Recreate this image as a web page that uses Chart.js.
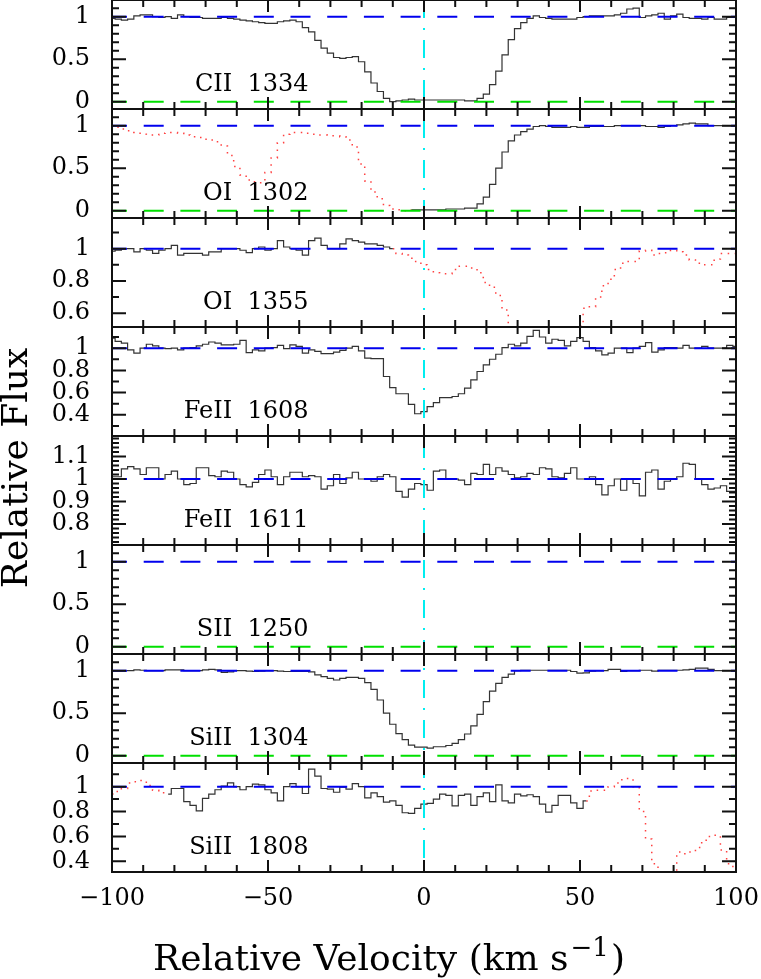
<!DOCTYPE html>
<html>
<head>
<meta charset="utf-8">
<script src="https://cdn.jsdelivr.net/npm/chart.js@4.4.1/dist/chart.umd.min.js"></script>
<style>
  html, body { margin: 0; padding: 0; background: #fff; }
  canvas { display: block; }
</style>
</head>
<body>
<canvas id="velocityPlot" width="761" height="979"></canvas>
<script>
// velocity grid (km/s), bin centres
const velocity = [
  -100, -98, -96, -94, -92, -90, -88, -86, -84, -82,
  -80, -78, -76, -74, -72, -70, -68, -66, -64, -62,
  -60, -58, -56, -54, -52, -50, -48, -46, -44, -42,
  -40, -38, -36, -34, -32, -30, -28, -26, -24, -22,
  -20, -18, -16, -14, -12, -10, -8, -6, -4, -2,
  0, 2, 4, 6, 8, 10, 12, 14, 16, 18,
  20, 22, 24, 26, 28, 30, 32, 34, 36, 38,
  40, 42, 44, 46, 48, 50, 52, 54, 56, 58,
  60, 62, 64, 66, 68, 70, 72, 74, 76, 78,
  80, 82, 84, 86, 88, 90, 92, 94, 96, 98,
  100
];

const panelNames = ["CII  1334", "OI  1302", "OI  1355", "FeII  1608", "FeII  1611", "SII  1250", "SiII  1304", "SiII  1808"];

const fluxCII1334 = [
  0.98, 0.97, 0.96, 0.97, 1.01, 1.02, 1.02, 1.00, 0.99, 1.00,
  0.98, 1.02, 1.00, 0.99, 0.99, 0.98, 0.98, 0.98, 0.99, 0.98,
  0.97, 0.96, 0.95, 0.94, 0.93, 0.92, 0.92, 0.94, 0.95, 0.96,
  0.94, 0.87, 0.82, 0.72, 0.63, 0.57, 0.52, 0.51, 0.52, 0.53,
  0.47, 0.35, 0.22, 0.12, 0.04, 0.00, 0.01, 0.02, 0.03, 0.02,
  0.02, 0.02, 0.02, 0.02, 0.02, 0.02, 0.02, 0.01, 0.01, 0.04,
  0.09, 0.20, 0.36, 0.55, 0.73, 0.86, 0.93, 0.98, 1.01, 0.99,
  0.98, 0.97, 0.97, 0.97, 0.97, 0.99, 1.00, 1.01, 1.01, 1.01,
  1.01, 1.02, 1.04, 1.09, 1.10, 0.99, 1.01, 1.02, 1.04, 0.97,
  1.01, 1.03, 0.99, 0.98, 0.98, 0.97, 0.99, 0.97, 0.97, 0.99,
  0.99
];
const fluxOI1302 = [
  1.00, 0.98, 0.96, 0.94, 0.92, 0.90, 0.89, 0.89, 0.91, 0.92,
  0.92, 0.91, 0.89, 0.87, 0.86, 0.84, 0.83, 0.81, 0.76, 0.65,
  0.52, 0.42, 0.36, 0.34, 0.33, 0.45, 0.62, 0.80, 0.90, 0.92,
  0.92, 0.91, 0.90, 0.89, 0.89, 0.88, 0.88, 0.87, 0.83, 0.75,
  0.55, 0.35, 0.22, 0.14, 0.06, 0.02, 0.01, 0.00, 0.01, 0.01,
  0.01, 0.01, 0.01, 0.01, 0.02, 0.02, 0.02, 0.03, 0.03, 0.08,
  0.16, 0.31, 0.50, 0.69, 0.82, 0.89, 0.93, 0.96, 0.99, 1.00,
  0.99, 0.98, 0.98, 0.98, 0.99, 0.98, 0.98, 0.99, 0.99, 0.99,
  0.99, 1.00, 1.00, 1.00, 1.00, 1.00, 0.99, 0.99, 0.98, 0.99,
  1.00, 1.01, 1.02, 1.03, 1.02, 1.02, 1.00, 1.00, 1.00, 1.00,
  1.00
];
const fluxOI1355 = [
  0.985, 0.99, 1.00, 1.00, 0.98, 1.00, 0.99, 0.97, 0.99, 1.00,
  1.02, 0.96, 0.97, 0.97, 0.97, 0.96, 0.98, 0.98, 1.00, 1.00,
  1.00, 0.99, 0.975, 1.00, 1.01, 0.99, 1.00, 1.05, 1.01, 1.00,
  0.99, 0.96, 1.05, 1.065, 1.02, 1.00, 1.00, 1.03, 1.06, 1.05,
  1.04, 1.03, 1.03, 1.02, 1.01, 1.00, 0.97, 0.96, 0.94, 0.92,
  0.90, 0.87, 0.85, 0.845, 0.845, 0.87, 0.89, 0.89, 0.88, 0.85,
  0.79, 0.76, 0.71, 0.62, 0.50, 0.45, 0.40, 0.35, 0.30, 0.30,
  0.30, 0.30, 0.35, 0.40, 0.45, 0.52, 0.63, 0.64, 0.70, 0.77,
  0.81, 0.87, 0.91, 0.92, 0.92, 0.985, 0.99, 0.96, 0.97, 0.975,
  0.99, 0.98, 0.96, 0.93, 0.91, 0.90, 0.90, 0.935, 0.97, 0.97,
  0.97
];
const fluxFeII1608 = [
  1.09, 1.06, 1.045, 0.985, 0.955, 1.00, 1.035, 1.02, 1.00, 0.995,
  1.00, 0.985, 1.00, 1.005, 1.02, 1.035, 1.055, 1.045, 1.03, 1.03,
  1.035, 1.07, 0.96, 0.985, 0.975, 1.00, 1.005, 1.025, 0.995, 1.03,
  1.015, 0.955, 0.985, 0.97, 0.95, 0.95, 0.965, 0.98, 1.00, 1.015,
  0.975, 0.91, 0.905, 0.905, 0.745, 0.645, 0.59, 0.59, 0.495, 0.41,
  0.43, 0.475, 0.51, 0.555, 0.555, 0.565, 0.59, 0.64, 0.715, 0.79,
  0.85, 0.90, 0.945, 1.005, 1.035, 1.02, 1.045, 1.105, 1.16, 1.10,
  1.045, 1.08, 1.07, 1.02, 1.06, 1.095, 1.06, 1.005, 0.975, 0.94,
  0.955, 1.00, 1.00, 0.96, 1.00, 1.015, 1.05, 0.965, 0.985, 1.005,
  1.005, 1.00, 1.025, 1.00, 1.00, 1.015, 1.00, 1.00, 1.00, 1.025,
  1.015
];
const fluxFeII1611 = [
  1.01, 1.01, 1.045, 1.055, 1.045, 1.02, 1.05, 1.05, 1.00, 1.02,
  1.035, 1.00, 0.975, 0.98, 1.05, 1.05, 1.015, 1.01, 1.035, 1.03,
  1.00, 0.975, 0.965, 0.985, 1.02, 1.04, 1.01, 0.975, 1.01, 1.03,
  1.03, 1.01, 1.015, 1.01, 0.955, 0.97, 1.02, 0.98, 1.005, 1.03,
  1.00, 1.00, 0.99, 1.01, 1.02, 1.01, 0.945, 0.92, 0.955, 0.98,
  0.975, 0.95, 1.035, 1.04, 1.00, 1.00, 0.995, 0.975, 1.025, 1.02,
  1.065, 1.02, 1.05, 1.035, 1.02, 1.005, 1.01, 1.025, 1.02, 1.05,
  1.045, 1.01, 1.005, 1.025, 1.05, 1.00, 1.00, 1.01, 0.975, 0.93,
  0.97, 1.00, 0.95, 1.00, 0.98, 0.925, 1.03, 1.04, 0.955, 0.99,
  1.00, 1.01, 1.07, 1.065, 1.00, 0.975, 0.955, 0.96, 0.97, 0.945,
  0.945
];
const fluxSII1250 = [];
const fluxSiII1304 = [
  1.00, 1.00, 1.00, 1.00, 1.01, 1.005, 1.00, 1.00, 1.00, 1.01,
  1.01, 1.01, 1.00, 1.00, 1.00, 1.01, 1.015, 1.01, 0.98, 0.985,
  1.00, 1.00, 0.995, 0.99, 0.995, 1.00, 1.00, 0.995, 0.99, 0.99,
  0.99, 0.99, 0.985, 0.95, 0.93, 0.91, 0.89, 0.91, 0.92, 0.92,
  0.91, 0.86, 0.78, 0.655, 0.50, 0.37, 0.26, 0.19, 0.125, 0.10,
  0.10, 0.09, 0.105, 0.105, 0.12, 0.145, 0.19, 0.255, 0.35, 0.485,
  0.635, 0.76, 0.85, 0.92, 0.96, 1.00, 1.005, 1.005, 1.005, 1.005,
  1.005, 1.005, 1.005, 1.005, 0.99, 0.97, 0.975, 0.995, 1.00, 1.00,
  1.015, 1.015, 0.99, 1.00, 1.00, 1.005, 1.005, 0.995, 1.005, 1.005,
  1.005, 1.005, 1.01, 1.015, 1.03, 1.03, 1.015, 1.00, 1.00, 1.00,
  1.00
];
const fluxSiII1808 = [
  0.94, 0.96, 0.985, 1.03, 1.04, 1.05, 1.01, 0.97, 0.95, 0.94,
  0.985, 0.985, 0.88, 0.85, 0.805, 0.905, 0.94, 0.975, 1.005, 1.03,
  1.00, 0.975, 1.00, 1.02, 1.015, 0.975, 0.95, 0.885, 1.00, 1.025,
  1.00, 0.945, 1.14, 1.085, 0.985, 0.98, 0.955, 0.995, 0.98, 1.025,
  1.00, 0.91, 0.95, 0.92, 0.875, 0.885, 0.85, 0.79, 0.785, 0.825,
  0.86, 0.865, 0.90, 0.94, 0.93, 0.845, 0.93, 0.94, 0.85, 0.92,
  0.95, 0.88, 1.015, 0.885, 0.87, 0.94, 0.925, 0.935, 0.92, 0.86,
  0.795, 0.85, 0.93, 0.93, 0.87, 0.825, 0.885, 0.965, 0.97, 0.97,
  1.00, 1.03, 1.055, 1.065, 1.00, 0.80, 0.58, 0.38, 0.28, 0.22,
  0.25, 0.475, 0.46, 0.475, 0.51, 0.57, 0.60, 0.61, 0.49, 0.38,
  0.33
];

const panelFlux = [fluxCII1334, fluxOI1302, fluxOI1355, fluxFeII1608, fluxFeII1611, fluxSII1250, fluxSiII1304, fluxSiII1808];
// velocity ranges blended with other lines (drawn red dotted)
const panelBlends = [[], [[-100, -4]], [[-10, 100]], [], [], [], [], [[-100, -82], [52, 100]]];

const yMin = [-0.086, -0.086, 0.514, 0.21, 0.707, -0.086, -0.086, 0.314];
const yMax = [1.196, 1.196, 1.19, 1.19, 1.191, 1.196, 1.196, 1.19];
const yTickLabels = [[0, 0.5, 1], [0, 0.5, 1], [0.6, 0.8, 1], [0.4, 0.6, 0.8, 1], [0.8, 0.9, 1, 1.1], [0, 0.5, 1], [0, 0.5, 1], [0.4, 0.6, 0.8, 1]];
const yMinorStep = [0.1, 0.1, 0.1, 0.1, 0.02, 0.1, 0.1, 0.1];
const xTickLabels = [-100, -50, 0, 50, 100];

const serif = '"DejaVu Serif", serif';

// clip every dataset to its own panel
const panelClip = {
  id: "panelClip",
  beforeDatasetDraw(chart, args) {
    const s = args.meta.yScale, a = chart.chartArea, ctx = chart.ctx;
    ctx.save();
    ctx.beginPath();
    ctx.rect(a.left, s.top, a.right - a.left, s.bottom - s.top);
    ctx.clip();
  },
  afterDatasetDraw(chart) {
    chart.ctx.restore();
  }
};

// frames, inward ticks, line names and titles
const frames = {
  id: "frames",
  afterDatasetsDraw(chart) {
    const ctx = chart.ctx, a = chart.chartArea, xs = chart.scales.x;
    ctx.save();
    const x0 = xs.getPixelForValue(0);
    ctx.strokeStyle = "#00eef0";
    ctx.lineWidth = 2;
    ctx.setLineDash([18, 10, 2, 10]);
    ctx.beginPath();
    ctx.moveTo(x0, a.top);
    ctx.lineTo(x0, a.bottom);
    ctx.stroke();
    ctx.setLineDash([]);

    ctx.strokeStyle = "#111";
    ctx.lineWidth = 2;
    panelNames.forEach((name, i) => {
      const ys = chart.scales["y" + i];
      ctx.strokeRect(a.left, ys.top, a.right - a.left, ys.bottom - ys.top);
      ctx.beginPath();
      const step = yMinorStep[i];
      for (let k = Math.ceil(yMin[i] / step - 1e-6); k * step <= yMax[i] + 1e-9; k++) {
        const v = k * step;
        const major = yTickLabels[i].some(t => Math.abs(t - v) < 1e-6);
        const len = major ? 14 : 7;
        const py = ys.getPixelForValue(v);
        ctx.moveTo(a.left, py); ctx.lineTo(a.left + len, py);
        ctx.moveTo(a.right, py); ctx.lineTo(a.right - len, py);
      }
      for (let v = -100; v <= 100; v += 10) {
        const len = v % 50 === 0 ? 12 : 7;
        const px = xs.getPixelForValue(v);
        ctx.moveTo(px, ys.bottom); ctx.lineTo(px, ys.bottom - len);
        ctx.moveTo(px, ys.top); ctx.lineTo(px, ys.top + len);
      }
      ctx.stroke();

      ctx.font = "24px " + serif;
      ctx.fillStyle = "#000";
      ctx.textAlign = "right";
      ctx.textBaseline = "alphabetic";
      ctx.fillText(name, xs.getPixelForValue(-37), ys.bottom - 18);
    });
    ctx.restore();
  },
  afterDraw(chart) {
    const ctx = chart.ctx;
    ctx.save();
    ctx.fillStyle = "#000";
    ctx.textBaseline = "alphabetic";
    ctx.font = "36px " + serif;

    ctx.save();
    ctx.translate(27, 468);
    ctx.rotate(-Math.PI / 2);
    ctx.textAlign = "center";
    ctx.fillText("Relative Flux", 0, 0);
    ctx.restore();

    const main = "Relative Velocity (km s", sup = "\u22121", close = ")";
    ctx.textAlign = "left";
    const wMain = ctx.measureText(main).width;
    const wClose = ctx.measureText(close).width;
    ctx.font = "26px " + serif;
    const wSup = ctx.measureText(sup).width;
    let x = 387 - (wMain + wSup + wClose) / 2;
    const y = 970;
    ctx.font = "36px " + serif;
    ctx.fillText(main, x, y);
    x += wMain + 2;
    ctx.font = "26px " + serif;
    ctx.fillText(sup, x, y - 14);
    x += wSup + 2;
    ctx.font = "36px " + serif;
    ctx.fillText(close, x, y);
    ctx.restore();
  }
};

// keep the plot frame where the reference has it
function noPadding(s) {
  s.paddingTop = 0;
  s.paddingBottom = 0;
  s.paddingLeft = 0;
  s.paddingRight = 0;
}

const datasets = [];
const scales = {
  x: {
    type: "linear",
    min: -100,
    max: 100,
    grid: { display: false, drawTicks: false },
    border: { display: false },
    afterBuildTicks: s => { s.ticks = xTickLabels.map(v => ({ value: v })); },
    afterFit: s => { s.height = 107; noPadding(s); },
    ticks: {
      autoSkip: false,
      maxRotation: 0,
      padding: 12,
      color: "#000",
      font: { family: serif, size: 24 },
      callback: v => (v < 0 ? "\u2212" + Math.abs(v) : String(v))
    }
  }
};

panelNames.forEach((name, i) => {
  const yID = "y" + i;
  scales[yID] = {
    type: "linear",
    axis: "y",
    position: "left",
    stack: "panels",
    weight: 8 - i,
    min: yMin[i],
    max: yMax[i],
    grid: { display: false, drawTicks: false },
    border: { display: false },
    afterBuildTicks: s => { s.ticks = yTickLabels[i].map(v => ({ value: v })); },
    afterFit: s => { s.width = 112; noPadding(s); },
    ticks: {
      autoSkip: false,
      padding: 22,
      color: "#000",
      font: { family: serif, size: 24 },
      callback: v => String(v)
    }
  };

  datasets.push({
    label: name + " continuum",
    data: [{ x: -100, y: 1 }, { x: 100, y: 1 }],
    yAxisID: yID,
    borderColor: "#0000ee",
    borderWidth: 2,
    borderDash: [20, 16.7],
    borderDashOffset: 5,
    order: 0
  });
  if (yMin[i] < 0) {
    datasets.push({
      label: name + " zero",
      data: [{ x: -100, y: 0 }, { x: 100, y: 0 }],
      yAxisID: yID,
      borderColor: "#00e000",
      borderWidth: 2,
      borderDash: [20, 16.7],
      borderDashOffset: 5,
      order: 0
    });
  }

  const flux = panelFlux[i];
  if (!flux.length) return;
  const blends = panelBlends[i];
  const inside = v => blends.some(([lo, hi]) => v > lo && v < hi);
  const within = v => blends.some(([lo, hi]) => v >= lo && v <= hi);

  datasets.push({
    label: name,
    data: velocity.map((v, k) => ({ x: v, y: inside(v) ? null : flux[k] })),
    yAxisID: yID,
    stepped: "middle",
    borderColor: "#333",
    borderWidth: 1.2,
    order: 1
  });
  if (blends.length) {
    datasets.push({
      label: name + " blended",
      data: velocity.map((v, k) => ({ x: v, y: within(v) ? flux[k] : null })),
      yAxisID: yID,
      stepped: "middle",
      borderColor: "rgba(255, 30, 30, 0.85)",
      borderWidth: 1.5,
      borderDash: [1.5, 5.5],
      order: 1
    });
  }
});

const ctx = document.getElementById("velocityPlot").getContext("2d");
new Chart(ctx, {
  type: "line",
  data: { datasets: datasets },
  options: {
    responsive: false,
    animation: false,
    devicePixelRatio: 1,
    layout: { autoPadding: false, padding: { left: 0, right: 25, top: 0, bottom: 0 } },
    elements: { point: { radius: 0 }, line: { tension: 0 } },
    plugins: { legend: { display: false }, tooltip: { enabled: false } },
    scales: scales
  },
  plugins: [panelClip, frames]
});
</script>
</body>
</html>
